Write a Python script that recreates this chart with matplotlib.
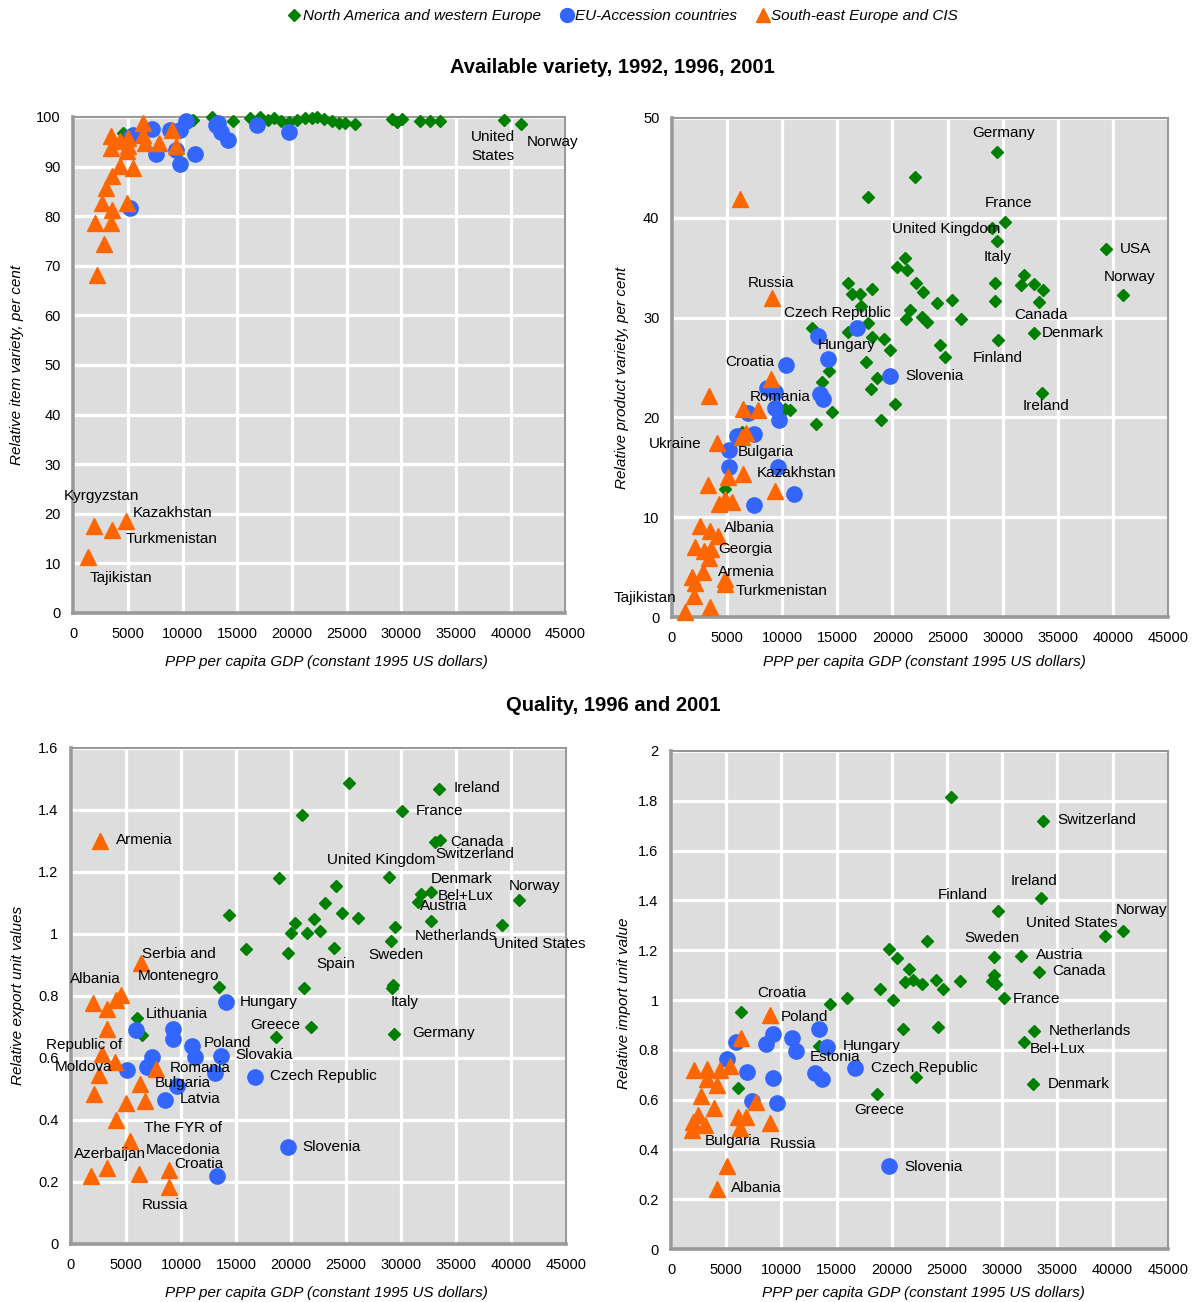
import matplotlib
matplotlib.use("Agg")
import matplotlib.pyplot as plt
from matplotlib.lines import Line2D
from matplotlib.ticker import MultipleLocator, FuncFormatter

plt.rcParams['font.family'] = ['Liberation Sans', 'DejaVu Sans']

GREEN = "#008000"
BLUE = "#3366FF"
ORANGE = "#FF6600"

# ---- Available item variety (x = GDP per capita, y = per cent) ----
item_nawe_x = [4520, 10900, 12640, 14550, 16100, 17020, 17750, 18380, 19020, 19750,
               20480, 21210, 21850, 22310, 22950, 23680, 24310, 24860, 25770,
               29150, 29610, 30060, 31700, 32620, 33530, 39370, 40920]
item_nawe_y = [96.8, 99.4, 100.0, 99.2, 99.8, 100.0, 99.4, 99.8, 99.2, 99.0,
               99.4, 99.8, 99.8, 100.0, 99.6, 99.2, 98.8, 98.8, 98.6,
               99.6, 99.0, 99.6, 99.2, 99.2, 99.2, 99.4, 98.6]
item_eu_x = [5160, 5160, 5460, 7140, 7530, 8800, 9720, 10330, 9420, 9780, 11090,
             13060, 13210, 13520, 14130, 16770, 19750]
item_eu_y = [81.6, 96.0, 96.4, 97.6, 92.5, 97.4, 97.4, 99.1, 93.4, 90.5, 92.5,
             98.4, 98.7, 97.0, 95.4, 98.4, 96.9]
item_see_x = [2170, 2780, 1960, 3390, 3540, 4850, 2630, 2970, 3540, 4240, 5460,
              4850, 3390, 3390, 4240, 5000, 5000, 6370, 6370, 6520, 7830, 9050,
              9420, 1290, 1900, 3540, 4820]
item_see_y = [68.2, 74.4, 78.6, 78.6, 81.3, 82.7, 82.7, 85.7, 88.0, 90.1, 89.7,
              93.1, 93.8, 96.1, 95.1, 95.8, 94.1, 98.8, 96.4, 94.8, 94.8, 97.4,
              94.1, 11.3, 17.6, 16.7, 18.5]

# ---- Available product variety ----
prod_nawe_x = [29490, 22020, 17790, 30220, 29010, 29490, 39350, 21110, 20450, 21360,
               29310, 31960, 31660, 32870, 33680, 33260, 40920, 29310, 15990, 16290,
               17050, 18160, 17110, 22170, 22770, 24070, 25420, 26180, 21560, 21270,
               22680, 23170, 17790, 15990, 18160, 19240, 19820, 17560, 24280, 24730,
               29610, 32800, 18640, 18010, 20210, 33560, 14240, 13580, 14480, 19000,
               12680, 13040, 10720, 10260, 6350, 4840]
prod_nawe_y = [46.6, 44.1, 42.1, 39.6, 39.0, 37.7, 36.9, 36.0, 35.1, 34.8,
               33.5, 34.3, 33.3, 33.4, 32.8, 31.6, 32.3, 31.7, 33.5, 32.4,
               32.4, 32.9, 31.2, 33.5, 32.6, 31.5, 31.8, 29.9, 30.8, 29.9,
               30.1, 29.6, 29.5, 28.6, 28.1, 27.9, 26.8, 25.6, 27.3, 26.1,
               27.8, 28.5, 23.9, 22.8, 21.3, 22.4, 24.6, 23.5, 20.5, 19.7,
               29.0, 19.3, 20.7, 20.8, 18.5, 12.8]
prod_eu_x = [16750, 13220, 14180, 19820, 10330, 8610, 9360, 13430, 13730, 6940,
             9360, 9750, 5900, 7400, 5200, 5140, 9660, 11100, 7460]
prod_eu_y = [29.0, 28.2, 25.9, 24.1, 25.2, 22.9, 22.5, 22.3, 21.8, 20.4,
             20.9, 19.7, 18.1, 18.3, 16.7, 15.0, 15.0, 12.3, 11.2]
prod_see_x = [6190, 9060, 9000, 3390, 6400, 7800, 6740, 6350, 4090, 6400, 5080,
              3270, 9360, 4840, 5440, 4230, 2580, 3420, 4180, 2120, 2880, 3540,
              3330, 2790, 1830, 2120, 4770, 4770, 2030, 3480, 1220]
prod_see_y = [41.9, 32.0, 23.8, 22.1, 20.8, 20.7, 18.4, 18.0, 17.4, 14.3, 14.0,
              13.2, 12.6, 11.8, 11.5, 11.3, 9.1, 8.6, 8.1, 7.0, 6.6, 6.8,
              5.9, 4.5, 4.0, 3.4, 3.8, 3.3, 2.1, 1.0, 0.5]

# ---- Relative export unit values ----
exp_nawe_x = [25290, 33430, 30050, 21010, 33520, 33070, 18900, 28910, 24110, 32700,
              31800, 31560, 40750, 23060, 24620, 26070, 22120, 20400, 20010, 21460,
              22600, 32700, 39150, 29450, 29140, 23930, 19710, 15890, 29290, 29200,
              21220, 21850, 18600, 29360, 13470, 6030, 6450, 14380]
exp_nawe_y = [1.488, 1.468, 1.395, 1.384, 1.303, 1.295, 1.180, 1.183, 1.155, 1.134,
              1.129, 1.104, 1.110, 1.099, 1.067, 1.050, 1.047, 1.034, 1.004, 1.002,
              1.010, 1.040, 1.029, 1.022, 0.978, 0.954, 0.938, 0.951, 0.835, 0.826,
              0.825, 0.699, 0.667, 0.677, 0.828, 0.728, 0.674, 1.061]
exp_eu_x = [14080, 5940, 9250, 9250, 11000, 11280, 13630, 7350, 6900, 5090, 13110,
            16700, 9610, 8590, 19740, 13320]
exp_eu_y = [0.780, 0.690, 0.693, 0.660, 0.639, 0.602, 0.607, 0.604, 0.570, 0.561, 0.551,
            0.540, 0.508, 0.465, 0.312, 0.219]
exp_see_x = [2620, 6330, 4520, 4130, 2020, 3230, 3320, 2830, 3980, 2530, 7690, 6240,
             2080, 5040, 6690, 4130, 5330, 1810, 3230, 6180, 8950, 8950]
exp_see_y = [1.300, 0.905, 0.803, 0.787, 0.778, 0.757, 0.693, 0.612, 0.588, 0.545, 0.563, 0.516,
             0.484, 0.454, 0.462, 0.400, 0.333, 0.220, 0.244, 0.225, 0.239, 0.185]

# ---- Relative import unit value ----
imp_nawe_x = [25390, 33660, 33550, 29580, 40910, 39330, 23170, 19770, 20460, 29240,
              31710, 33300, 21570, 21210, 21930, 22720, 24040, 24670, 26170, 29240,
              29030, 29480, 30150, 18950, 20070, 15950, 14410, 32850, 31950, 21030,
              24190, 13390, 22180, 32760, 18620, 6380, 6070]
imp_nawe_y = [1.816, 1.720, 1.408, 1.357, 1.278, 1.257, 1.236, 1.205, 1.167, 1.174,
              1.178, 1.114, 1.123, 1.074, 1.080, 1.064, 1.080, 1.043, 1.078, 1.100,
              1.076, 1.064, 1.009, 1.043, 1.000, 1.007, 0.983, 0.877, 0.833, 0.882,
              0.893, 0.816, 0.692, 0.663, 0.621, 0.953, 0.645]
imp_eu_x = [5870, 9230, 8640, 10980, 11280, 13360, 14110, 16700, 5030, 6890, 9230,
            13060, 13660, 7370, 9630, 19770]
imp_eu_y = [0.833, 0.863, 0.823, 0.846, 0.796, 0.884, 0.812, 0.726, 0.762, 0.710, 0.688,
            0.706, 0.682, 0.596, 0.588, 0.333]
imp_see_x = [8940, 6320, 2100, 3220, 4420, 5330, 3220, 4120, 2680, 3910, 7670, 2460,
             2010, 3070, 1870, 6070, 6770, 6230, 8940, 5030, 4120]
imp_see_y = [0.940, 0.846, 0.719, 0.722, 0.719, 0.735, 0.681, 0.659, 0.614, 0.568, 0.592, 0.538,
             0.511, 0.498, 0.478, 0.531, 0.531, 0.485, 0.507, 0.335, 0.240]

# country labels: (text, x, y, horizontal alignment)
item_labels = [("Kyrgyzstan", 2600, 23.6, "center"), ("Kazakhstan", 5430, 20.2, "left"),
               ("Turkmenistan", 8990, 14.9, "center"), ("Tajikistan", 4330, 7.1, "center"),
               ("United\nStates", 38370, 94.0, "center"), ("Norway", 43840, 95.0, "center")]
prod_labels = [("Germany", 30060, 48.5, "center"), ("France", 30520, 41.5, "center"),
               ("United Kingdom", 24910, 38.9, "center"), ("Italy", 29520, 36.1, "center"),
               ("USA", 40640, 36.9, "left"), ("Norway", 41550, 34.1, "center"),
               ("Canada", 33500, 30.3, "center"), ("Denmark", 33500, 28.5, "left"),
               ("Finland", 29520, 26.0, "center"), ("Ireland", 33950, 21.1, "center"),
               ("Russia", 8990, 33.5, "center"), ("Czech Republic", 14960, 30.5, "center"),
               ("Hungary", 15870, 27.3, "center"), ("Croatia", 7100, 25.6, "center"),
               ("Romania", 9810, 22.0, "center"), ("Slovenia", 21200, 24.1, "left"),
               ("Ukraine", 320, 17.3, "center"), ("Bulgaria", 8540, 16.5, "center"),
               ("Kazakhstan", 7730, 14.4, "left"), ("Albania", 7010, 8.9, "center"),
               ("Georgia", 6650, 6.8, "center"), ("Armenia", 6740, 4.5, "center"),
               ("Turkmenistan", 9900, 2.6, "center"), ("Tajikistan", -2490, 1.9, "center")]
exp_labels = [("Ireland", 34810, 1.471, "left"), ("France", 31380, 1.397, "left"),
              ("Canada", 34450, 1.297, "left"), ("Switzerland", 36710, 1.258, "center"),
              ("United Kingdom", 28210, 1.239, "center"), ("Denmark", 35540, 1.177, "center"),
              ("Bel+Lux", 35900, 1.123, "center"), ("Austria", 33910, 1.090, "center"),
              ("Norway", 42140, 1.155, "center"), ("Netherlands", 34990, 0.994, "center"),
              ("United States", 42590, 0.968, "center"), ("Spain", 24050, 0.903, "center"),
              ("Sweden", 29570, 0.932, "center"), ("Italy", 30290, 0.781, "center"),
              ("Germany", 31010, 0.681, "left"), ("Greece", 18540, 0.706, "center"),
              ("Hungary", 15370, 0.781, "left"), ("Lithuania", 9580, 0.742, "center"),
              ("Poland", 14200, 0.648, "center"), ("Slovakia", 17540, 0.610, "center"),
              ("Czech Republic", 18080, 0.542, "left"), ("Romania", 11750, 0.568, "center"),
              ("Bulgaria", 10130, 0.519, "center"), ("Latvia", 11750, 0.468, "center"),
              ("Serbia and", 9770, 0.935, "center"), ("Montenegro", 9770, 0.865, "center"),
              ("Albania", 2170, 0.855, "center"), ("Republic of", 1180, 0.642, "center"),
              ("Moldova", 1180, 0.571, "center"), ("The FYR of", 10220, 0.374, "center"),
              ("Macedonia", 10220, 0.303, "center"), ("Azerbaijan", 3530, 0.290, "center"),
              ("Croatia", 11660, 0.258, "center"), ("Russia", 8590, 0.126, "center"),
              ("Armenia", 4070, 1.303, "left"), ("Slovenia", 21070, 0.313, "left")]
imp_labels = [("Switzerland", 35020, 1.723, "left"), ("Ireland", 32850, 1.478, "center"),
              ("Finland", 26440, 1.422, "center"), ("Norway", 42600, 1.361, "center"),
              ("United States", 36280, 1.309, "center"), ("Sweden", 29060, 1.249, "center"),
              ("Austria", 33030, 1.181, "left"), ("Canada", 34570, 1.116, "left"),
              ("France", 30960, 1.004, "left"), ("Netherlands", 34210, 0.876, "left"),
              ("Bel+Lux", 32490, 0.803, "left"), ("Denmark", 34110, 0.663, "left"),
              ("Croatia", 10020, 1.028, "center"), ("Poland", 9930, 0.932, "left"),
              ("Hungary", 15520, 0.815, "left"), ("Estonia", 14890, 0.771, "center"),
              ("Czech Republic", 18140, 0.727, "left"), ("Greece", 18860, 0.558, "center"),
              ("Bulgaria", 5600, 0.434, "center"), ("Russia", 11010, 0.422, "center"),
              ("Slovenia", 21120, 0.329, "left"), ("Albania", 5420, 0.245, "left")]

XLABEL = "PPP per capita GDP (constant 1995 US dollars)"


def style_axes(ax, ymax, ystep, ylabel, ylab_pos, xlab_pos):
    ax.set_facecolor("#DDDDDD")
    ax.set_xlim(0, 45000)
    ax.set_ylim(0, ymax)
    ax.xaxis.set_major_locator(MultipleLocator(5000))
    ax.yaxis.set_major_locator(MultipleLocator(ystep))
    ax.yaxis.set_major_formatter(FuncFormatter(lambda v, p: "{:g}".format(round(v, 2))))
    ax.grid(True, color="white", lw=2.3)
    ax.set_axisbelow(True)
    ax.tick_params(length=0, labelsize=10.5, colors="black")
    ax.tick_params(axis="x", pad=10)
    ax.tick_params(axis="y", pad=9)
    for side in ["left", "bottom"]:
        ax.spines[side].set_color("#999999")
        ax.spines[side].set_linewidth(2.6)
    for side in ["top", "right"]:
        ax.spines[side].set_color("#999999")
        ax.spines[side].set_linewidth(1.5)
    ax.set_xlabel(XLABEL, fontsize=11, style="italic", va="center")
    ax.set_ylabel(ylabel, fontsize=11, style="italic", va="center")
    ax.xaxis.set_label_coords(*xlab_pos)
    ax.yaxis.set_label_coords(*ylab_pos)


def draw_points(ax, nawe, eu, see):
    # markers sitting on the 100 / 0 lines are drawn whole, not cut by the frame
    ax.plot(nawe[0], nawe[1], ls="none", marker="D", ms=6.5, color=GREEN, mec=GREEN,
            clip_on=False, zorder=3)
    ax.plot(eu[0], eu[1], ls="none", marker="o", ms=11, color=BLUE, mec=BLUE,
            clip_on=False, zorder=4)
    ax.plot(see[0], see[1], ls="none", marker="^", ms=11, color=ORANGE, mec=ORANGE,
            clip_on=False, zorder=5)


def draw_labels(ax, labels):
    for text, x, y, ha in labels:
        ax.text(x, y, text, ha=ha, va="center", fontsize=11, linespacing=1.5, zorder=6)


def main():
    fig = plt.figure(figsize=(11.97, 13.02), dpi=100)

    ax1 = fig.add_axes([0.0614, 0.5292, 0.4110, 0.3810])
    ax2 = fig.add_axes([0.5614, 0.5261, 0.4144, 0.3833])
    ax3 = fig.add_axes([0.0593, 0.0446, 0.4135, 0.3810])
    ax4 = fig.add_axes([0.5606, 0.0407, 0.4150, 0.3825])

    style_axes(ax1, 100, 10, "Relative item variety, per cent", (-0.115, 0.5), (0.515, -0.099))
    style_axes(ax2, 50, 10, "Relative product variety, per cent", (-0.101, 0.48), (0.508, -0.09))
    style_axes(ax3, 1.6, 0.2, "Relative export unit values", (-0.107, 0.5), (0.517, -0.099))
    style_axes(ax4, 2.0, 0.2, "Relative import unit value", (-0.095, 0.494), (0.509, -0.088))

    draw_points(ax1, (item_nawe_x, item_nawe_y), (item_eu_x, item_eu_y), (item_see_x, item_see_y))
    draw_points(ax2, (prod_nawe_x, prod_nawe_y), (prod_eu_x, prod_eu_y), (prod_see_x, prod_see_y))
    draw_points(ax3, (exp_nawe_x, exp_nawe_y), (exp_eu_x, exp_eu_y), (exp_see_x, exp_see_y))
    draw_points(ax4, (imp_nawe_x, imp_nawe_y), (imp_eu_x, imp_eu_y), (imp_see_x, imp_see_y))

    draw_labels(ax1, item_labels)
    draw_labels(ax2, prod_labels)
    draw_labels(ax3, exp_labels)
    draw_labels(ax4, imp_labels)

    fig.text(0.512, 0.9485, "Available variety, 1992, 1996, 2001", ha="center", va="center",
             fontsize=14.5, fontweight="bold")
    fig.text(0.512, 0.4585, "Quality, 1996 and 2001", ha="center", va="center",
             fontsize=14.5, fontweight="bold")

    handles = [Line2D([], [], ls="none", marker="D", ms=6, color=GREEN),
               Line2D([], [], ls="none", marker="o", ms=10, color=BLUE),
               Line2D([], [], ls="none", marker="^", ms=10, color=ORANGE)]
    names = ["North America and western Europe", "EU-Accession countries",
             "South-east Europe and CIS"]
    fig.legend(handles, names, loc="center", bbox_to_anchor=(0.52, 0.9877), ncol=3,
               frameon=False, prop={"style": "italic", "size": 11},
               handletextpad=0.05, columnspacing=1.2, handlelength=1.0)

    fig.savefig("out.png", dpi=100)


if __name__ == '__main__':
    main()
